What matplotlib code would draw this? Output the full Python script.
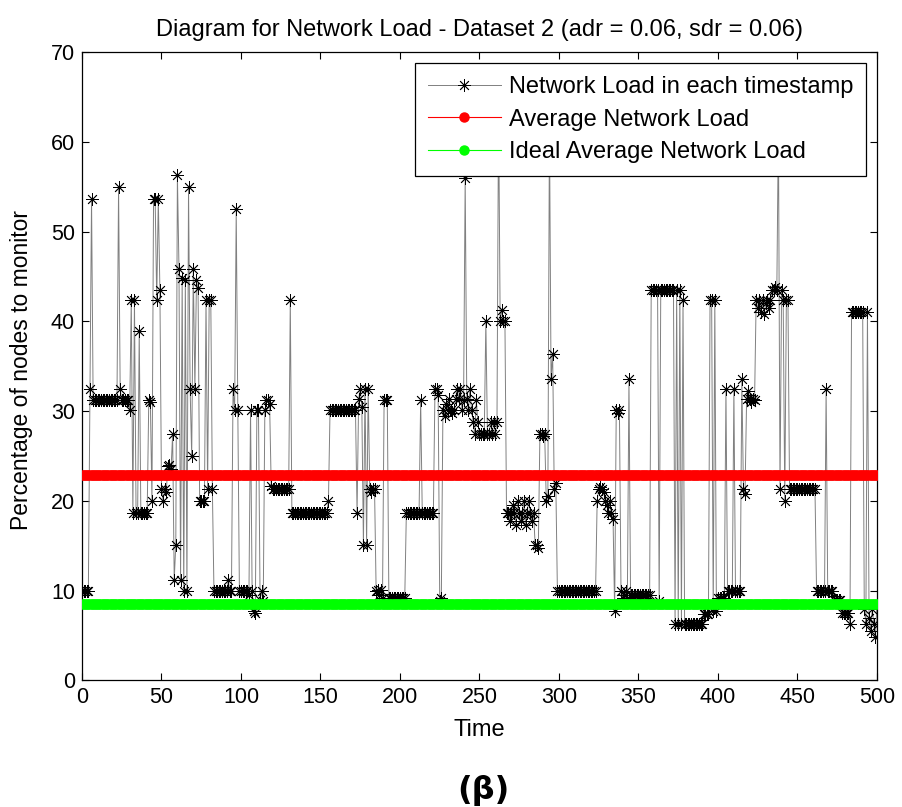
import numpy as np
import matplotlib
matplotlib.use("Agg")
import matplotlib.pyplot as plt

# Network load: run-length encoded (level, number of consecutive timestamps)
load_levels = [
    10, 32.5, 53.7, 31.2, 55, 32.5, 31.2, 30.1, 42.4, 18.7, 42.4, 18.7, 38.9, 18.7, 31.2, 31, 20,
    53.6, 53.7, 42.4, 53.6, 43.5, 21.3, 20, 21.3, 21, 23.9, 24, 23.5, 27.4, 11.2, 15.1, 56.3, 45.9,
    11.2, 44.8, 9.9, 44.6, 9.9, 55, 32.5, 25, 45.9, 32.5, 44.6, 43.7, 20, 42.4, 21.3, 42.4, 21.3,
    9.9, 11.2, 9.9, 32.5, 30.1, 52.5, 30.1, 9.9, 9.5, 30.1, 9.9, 7.7, 7.5, 30.1, 9, 9.9, 8.8, 30.1,
    31.2, 30.8, 21.7, 21.3, 42.4, 18.7, 20, 30.1, 18.7, 31.4, 32.5, 30.5, 15.1, 32.5, 15.1, 32.5,
    21.3, 21, 21.3, 9.9, 10.1, 9.5, 10.1, 9.2, 31.2, 9.2, 18.7, 31.2, 18.7, 32.5, 31.8, 8.8, 9.2,
    30.1, 29.5, 30.8, 30.1, 31.4, 30.1, 29.8, 30.1, 31.4, 32.5, 31.4, 32.5, 30.1, 31.2, 56, 31.4,
    30.1, 32.5, 30.1, 28.8, 27.4, 31.2, 28.8, 27.4, 40, 27.4, 28.8, 27.4, 28.8, 27.4, 28.8, 64, 40,
    41.3, 40, 18.7, 17.8, 18.7, 19.5, 18.7, 17.3, 20, 18.7, 17.8, 18.7, 20, 17.3, 18.7, 20, 18.7,
    17.8, 18.7, 15.1, 14.8, 27.4, 27.2, 27.4, 20, 20.5, 62, 33.6, 36.4, 21.3, 22, 9.9, 20, 21.3,
    21.5, 21.3, 21, 20, 19.5, 18.7, 20, 18.7, 18, 7.7, 30.1, 29.8, 30.1, 9.9, 9.2, 9.5, 9.9, 9.2,
    33.6, 9.5, 43.5, 8.8, 43.5, 6.3, 43.5, 6.3, 43.5, 6.3, 42.4, 6.3, 7.4, 42.4, 7.7, 42.4, 7.7,
    9.2, 32.5, 9.9, 32.5, 9.9, 33.6, 21.3, 20.8, 31.4, 32.3, 31.4, 31, 31.4, 31.2, 42.4, 41.5,
    42.4, 41, 42.4, 40.8, 42, 42.4, 41.5, 42.4, 43.5, 43.8, 43.5, 62, 21.3, 43.5, 42.4, 20, 42.4,
    21.3, 9.9, 32.5, 9.9, 9, 7.5, 6.3, 41.1, 8, 6.3, 41.1, 7, 5.5, 8, 6.3, 4.8, 8.5,
]
load_counts = [
    5, 1, 1, 16, 1, 1, 5, 1, 1, 1, 1, 2, 1, 5, 1, 1, 1,
    1, 1, 1, 1, 1, 1, 1, 1, 1, 1, 1, 1, 1, 1, 1, 1, 1,
    1, 1, 1, 1, 1, 1, 1, 1, 1, 1, 1, 1, 4, 1, 1, 2, 1,
    9, 1, 2, 1, 1, 1, 1, 6, 1, 1, 1, 1, 1, 2, 1, 1, 1, 1,
    2, 1, 1, 11, 1, 23, 1, 17, 1, 1, 1, 1, 1, 1, 1, 1,
    1, 1, 2, 1, 1, 1, 1, 1, 3, 11, 9, 1, 8, 2, 1, 1, 1,
    1, 1, 1, 1, 1, 1, 1, 1, 1, 1, 1, 1, 1, 1, 1, 1,
    1, 1, 1, 1, 1, 1, 1, 4, 1, 2, 1, 1, 1, 1, 1, 1, 1,
    1, 2, 2, 1, 1, 1, 1, 1, 1, 1, 1, 1, 1, 1, 1, 1, 1,
    1, 1, 2, 1, 2, 1, 1, 1, 1, 1, 1, 1, 1, 1, 25, 1, 1,
    1, 1, 1, 1, 1, 1, 1, 1, 1, 1, 1, 1, 1, 1, 1, 1, 1, 1,
    1, 13, 5, 1, 9, 1, 1, 1, 1, 1, 1, 12, 4, 2, 1, 1, 1,
    5, 1, 4, 1, 4, 1, 1, 1, 1, 1, 1, 1, 1, 1, 1, 1,
    1, 1, 1, 1, 1, 1, 1, 1, 2, 1, 1, 1, 1, 1, 1, 1, 2,
    17, 6, 1, 4, 5, 5, 1, 8, 1, 1, 1, 1, 1, 1, 1, 1, 1,
]
average_load = 22.85
ideal_average_load = 8.55

title_text = "Diagram for Network Load - Dataset 2 (adr = 0.06, sdr = 0.06)"
legend_labels = ["Network Load in each timestamp", "Average Network Load",
                 "Ideal Average Network Load"]
x_ticks = list(range(0, 501, 50))
y_ticks = list(range(0, 71, 10))

n = min(len(load_levels), len(load_counts))
load = np.repeat(np.array(load_levels[:n], float), np.array(load_counts[:n], int))
time = np.arange(len(load))

plt.rcParams['font.family'] = ['Liberation Sans', 'DejaVu Sans']

fig = plt.figure(figsize=(9.03, 8.07), dpi=100)
ax = fig.add_axes([0.0908, 0.157, 0.8804, 0.7782])

ax.plot(time, load, color='0.5', lw=0.7, marker=(8, 2, 0), markersize=9,
        markeredgecolor='black', markeredgewidth=0.6, label=legend_labels[0], zorder=2)
ax.plot(time, np.full(len(time), average_load), color='red', lw=0.8, marker='o',
        markersize=6.5, markeredgecolor='red', markerfacecolor='red',
        label=legend_labels[1], zorder=3)
ax.plot(time, np.full(len(time), ideal_average_load), color='#00ff00', lw=0.8, marker='o',
        markersize=6.5, markeredgecolor='#00ff00', markerfacecolor='#00ff00',
        label=legend_labels[2], zorder=3)

ax.set_xlim(0, 500)
ax.set_ylim(0, 70)
ax.set_xticks(x_ticks)
ax.set_yticks(y_ticks)
ax.tick_params(direction='in', top=True, right=True, labelsize=15.5, length=5, width=0.8,
               pad=5)
for s in ax.spines.values():
    s.set_linewidth(0.9)

ax.set_title(title_text, fontsize=17, pad=12)
ax.set_xlabel("Time", fontsize=17, va='center')
ax.xaxis.set_label_coords(0.5, -50 / 628)
ax.set_ylabel("Percentage of nodes to monitor", fontsize=16.5, va='center')
ax.yaxis.set_label_coords(-60 / 795, 0.494)

leg = ax.legend(loc='upper right', fontsize=17, frameon=True, fancybox=False,
                edgecolor='black', framealpha=1, handlelength=3.1, handletextpad=0.35,
                borderpad=0.55, labelspacing=0.45, borderaxespad=0.45, markerscale=1.0)
leg.get_frame().set_linewidth(0.9)

fig.text(483 / 903, 0.02, "(β)", ha='center', va='center', fontsize=23, fontweight='bold',
         family='DejaVu Sans')

fig.savefig("out.png", dpi=100)
